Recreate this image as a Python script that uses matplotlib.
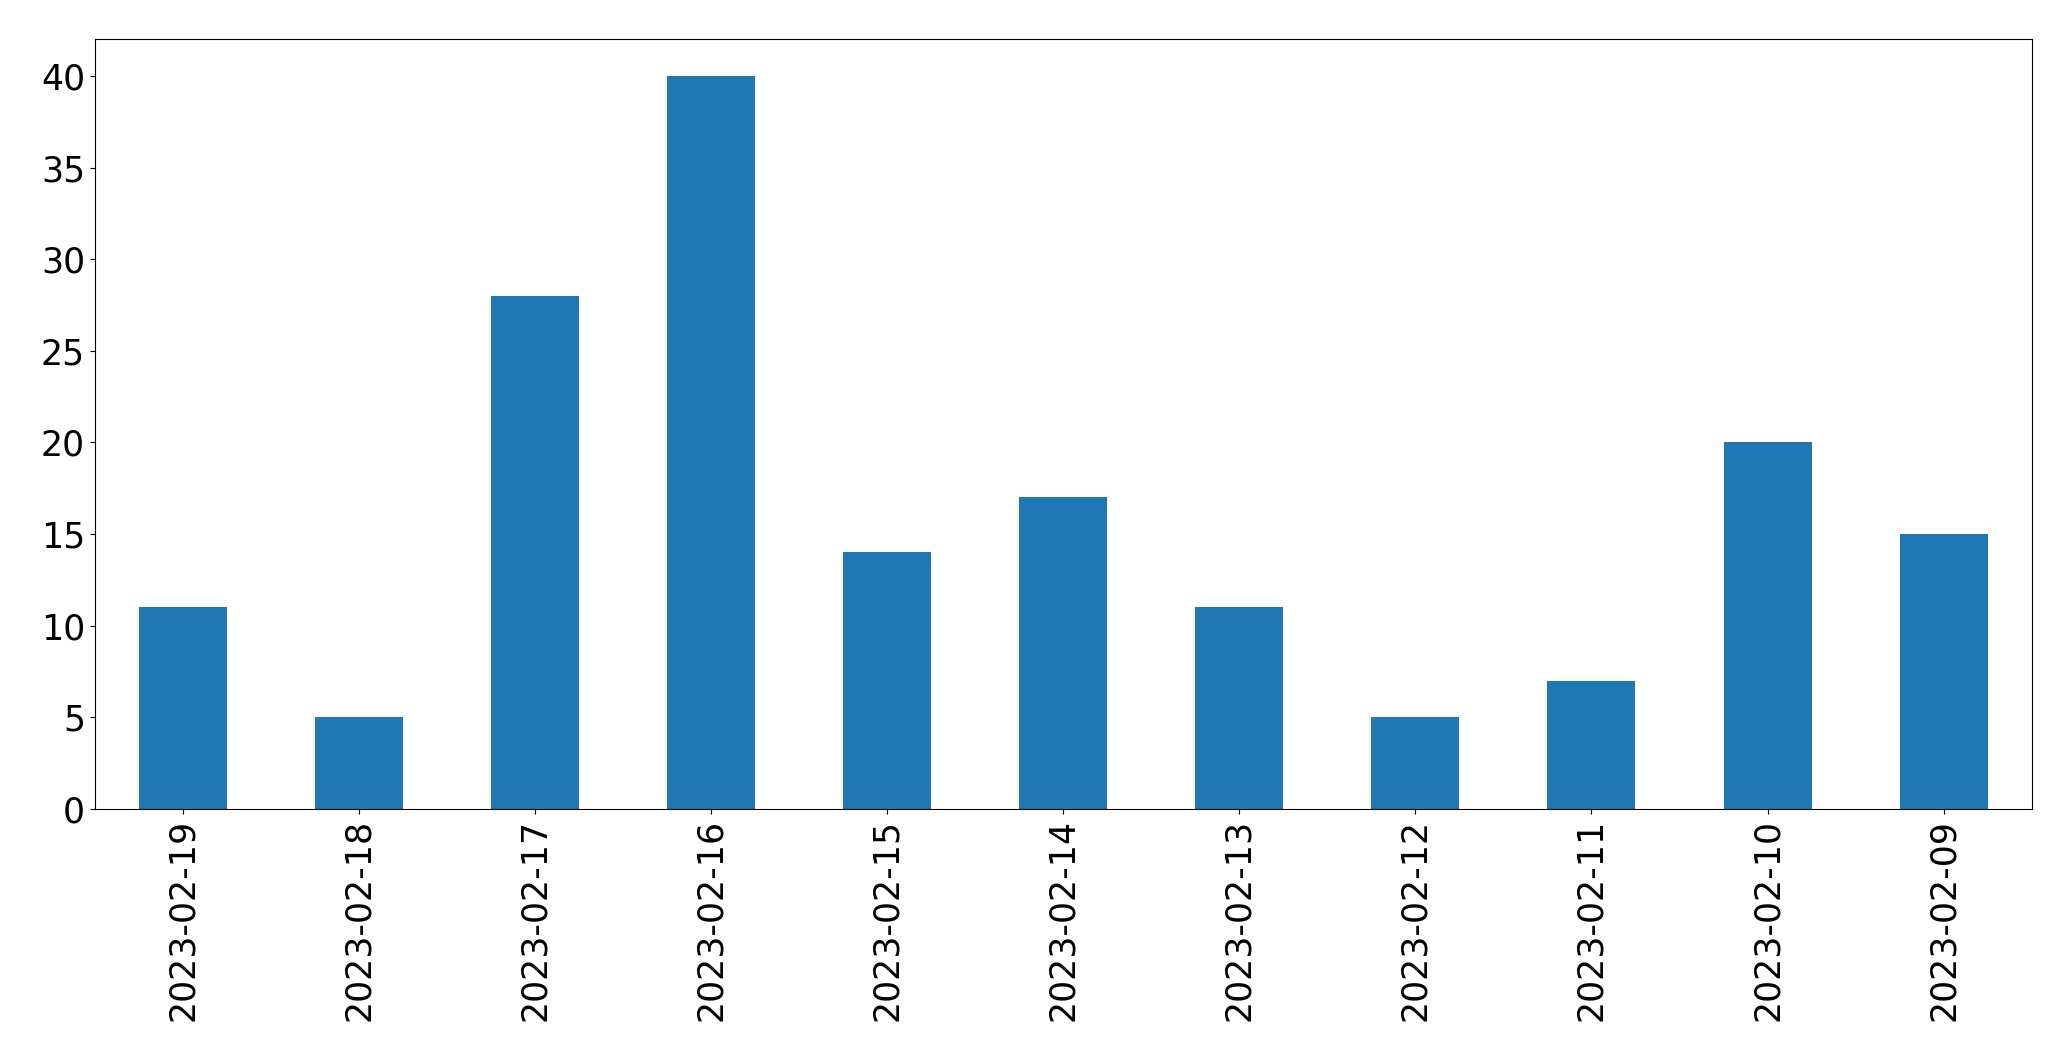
import matplotlib
matplotlib.use("Agg")
import matplotlib.pyplot as plt
import pandas as pd

dates = ["2023-02-19", "2023-02-18", "2023-02-17", "2023-02-16", "2023-02-15",
         "2023-02-14", "2023-02-13", "2023-02-12", "2023-02-11", "2023-02-10",
         "2023-02-09"]
counts = [11, 5, 28, 40, 14, 17, 11, 5, 7, 20, 15]

series = pd.Series(counts, index=dates)

fig = plt.figure(figsize=(20.71, 10.61), dpi=100)
ax = fig.add_axes([94.7 / 2071, 1 - 809 / 1061, (2031.7 - 94.7) / 2071, (809 - 39.3) / 1061])
series.plot(kind="bar", ax=ax, color="#1f77b4")

ax.tick_params(axis="both", labelsize=25)
ax.set_xlabel("")

fig.savefig("out.png", dpi=100)
